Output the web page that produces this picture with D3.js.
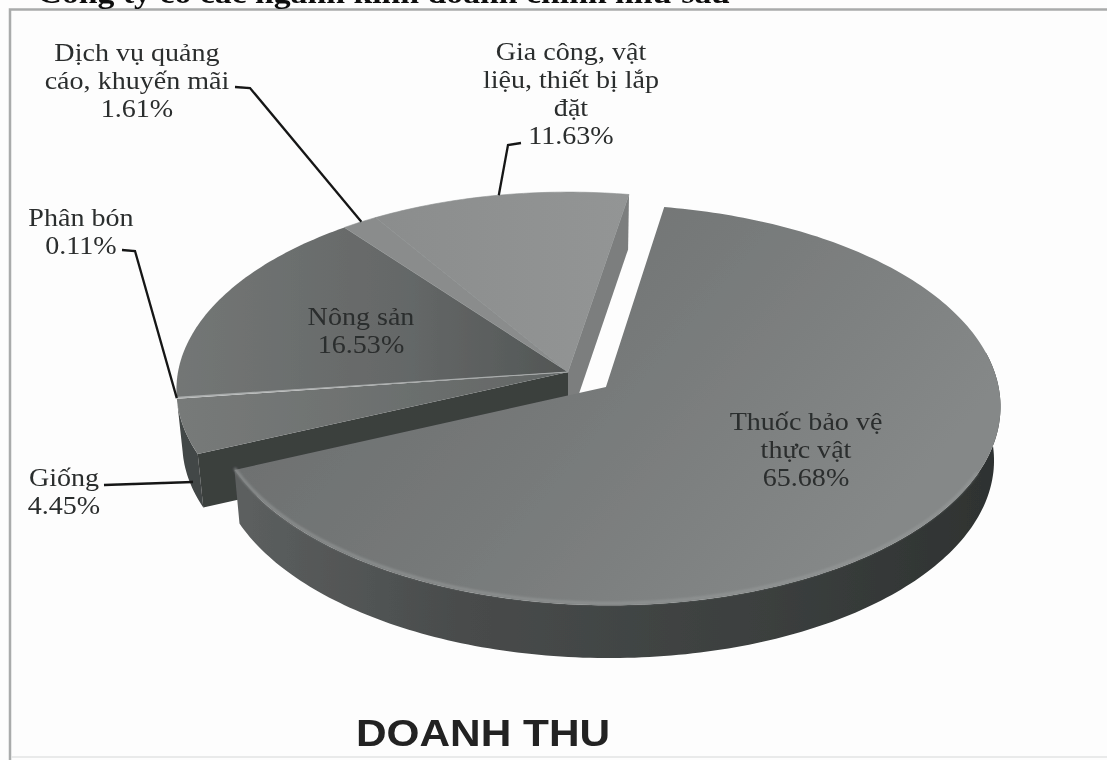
<!DOCTYPE html>
<html lang="vi"><head><meta charset="utf-8">
<script src="https://cdn.jsdelivr.net/npm/d3@7"></script>
<style>html,body{margin:0;padding:0;background:#fdfdfd;overflow:hidden}svg{display:block}</style>
</head><body><svg id="c" width="1107" height="760"></svg>
<script>
// ---- data ----
const categories = ["Thuốc bảo vệ thực vật","Giống","Phân bón","Nông sản","Dịch vụ quảng cáo, khuyến mãi","Gia công, vật liệu, thiết bị lắp đặt"];
const values = [65.68,4.45,0.11,16.53,1.61,11.63];
const valueLabels = ["65.68%","4.45%","0.11%","16.53%","1.61%","11.63%"];
const labelLines = [["Thuốc bảo vệ","thực vật"],["Giống"],["Phân bón"],["Nông sản"],["Dịch vụ quảng","cáo, khuyến mãi"],["Gia công, vật","liệu, thiết bị lắp","đặt"]];
const chartTitle = "DOANH THU";
const pageHeading = "- Công ty có các ngành kinh doanh chính như sau";

// ---- layout ----
const W=1107,H=760, CX=568,CY=372, RX=390,RY=196, K=0.0895, WALL=54, BOTTOM_SCALE=0.985;
const START=9.8*Math.PI/180, EXPLODE=[0.1226,0,0,0,0,0];
const deg=Math.PI/180;
const svg=d3.select("#c");
const defs=svg.append("defs");
defs.append("filter").attr("id","soft").append("feGaussianBlur").attr("stdDeviation",0.6);
defs.append("filter").attr("id","soft2").attr("x","-5%").attr("y","-5%").attr("width","110%").attr("height","110%").append("feGaussianBlur").attr("stdDeviation",1.1);
function grad(id,x1,y1,x2,y2,stops){
  const g=defs.append("linearGradient").attr("id",id).attr("gradientUnits","userSpaceOnUse")
    .attr("x1",x1).attr("y1",y1).attr("x2",x2).attr("y2",y2);
  stops.forEach(s=>g.append("stop").attr("offset",s[0]).attr("stop-color",s[1]));
}
grad("topMain",300,200,800,620,[[0,"#696c6c"],[.55,"#777a7a"],[1,"#858888"]]);
grad("wallMain",240,0,1000,0,[[0,"#5c5f5f"],[.3,"#484b4b"],[.7,"#3b3f3e"],[1,"#2e3231"]]);
grad("topNong",180,0,568,0,[[0,"#737675"],[.6,"#646767"],[1,"#525655"]]);
grad("topGiong",180,0,568,0,[[0,"#777a79"],[1,"#636766"]]);
grad("topGia",350,0,630,0,[[0,"#8a8c8c"],[1,"#939595"]]);
const topFill=["url(#topMain)","url(#topGiong)","#b8baba","url(#topNong)","#8a8c8c","url(#topGia)"];

const pie=d3.pie().value(d=>d).sort(null).startAngle(START).endAngle(START+2*Math.PI);
const arcs=pie(values);
function world(i,theta,r){
  const a=arcs[i], mid=(a.startAngle+a.endAngle)/2, e=EXPLODE[i];
  return [r*Math.sin(theta)+e*Math.sin(mid), r*Math.cos(theta)+e*Math.cos(mid)];
}
function proj(p,low){
  const w=1+K*p[1]; let sx=RX*p[0]/w, sy=-RY*p[1]/w;
  if(low){ sx*=BOTTOM_SCALE; sy=sy*0.995+WALL; }
  return [CX+sx,CY+sy];
}
const line=d3.line();
function rim(i,t0,t1,low){
  const n=Math.max(2,Math.ceil(Math.abs(t1-t0)/deg));
  return d3.range(n+1).map(j=>proj(world(i,t0+(t1-t0)*j/n,1),low));
}
const centre=(i,low)=>proj(world(i,0,0),low);
const topPath=i=>line([centre(i,false),...rim(i,arcs[i].startAngle,arcs[i].endAngle,false)])+"Z";
const wallPath=(i,t0,t1)=>line([...rim(i,t0,t1,false),...rim(i,t1,t0,true)])+"Z";
const cutPath=(i,t)=>line([centre(i,false),proj(world(i,t,1),false),proj(world(i,t,1),true),centre(i,true)])+"Z";

// frame
svg.append("rect").attr("width",W).attr("height",H).attr("fill","#fdfdfd");
svg.append("path").attr("d",line([[10,H],[10,9.5],[W,9.5]])).attr("fill","none").attr("stroke","#a9abab").attr("stroke-width",2.5);
svg.append("path").attr("d",line([[11,757],[W,757]])).attr("fill","none").attr("stroke","#e2e3e3").attr("stroke-width",1.5);

// rest of the pie: walls, then cut faces, then tops
const rest=[1,2,3,4,5];
const pieG=svg.append("g").attr("filter","url(#soft)");
pieG.append("path").attr("d",wallPath(1,arcs[1].startAngle,arcs[2].endAngle)).attr("fill","#434646");
pieG.append("path").attr("d",cutPath(5,arcs[5].endAngle)).attr("fill","#7c7e7e");
pieG.append("path").attr("d",cutPath(1,arcs[1].startAngle)).attr("fill","#3b3f3e");
pieG.selectAll("path.t").data(rest).join("path").attr("class","t")
  .attr("d",topPath).attr("fill",i=>topFill[i]).attr("stroke",i=>i>=4?"#8c8e8e":"none").attr("stroke-width",.6);
pieG.append("path").attr("d",line([centre(3,false),proj(world(3,arcs[3].startAngle,1),false)]))
  .attr("stroke","#a9acac").attr("stroke-width",1.1).attr("fill","none");

// main exploded slice
pieG.append("path").attr("d",wallPath(0,Math.max(arcs[0].startAngle,80*deg),arcs[0].endAngle)).attr("fill","url(#wallMain)");
pieG.append("path").attr("d",topPath(0)).attr("fill",topFill[0]);
pieG.append("path").attr("d",line(rim(0,115*deg,arcs[0].endAngle,false).map(p=>[p[0],p[1]-2])))
  .attr("fill","none").attr("stroke","#999c9c").attr("stroke-width",3).attr("opacity",.6).attr("filter","url(#soft2)");

// leaders: [label end, elbow], last point comes from the pie rim
const rimAt=(i,f)=>proj(world(i,arcs[i].startAngle+(arcs[i].endAngle-arcs[i].startAngle)*f,1),false);
const leaders=[
  [[[235,87],[250,88]],rimAt(4,.55)],
  [[[521,143],[508,145]],rimAt(5,.5)],
  [[[122,250],[135,251]],rimAt(2,.5)],
  [[[104,485]],[193,482]]
];
svg.append("g").attr("filter","url(#soft)").selectAll("path").data(leaders).join("path")
  .attr("d",d=>line([...d[0],d[1]])).attr("fill","none").attr("stroke","#151717").attr("stroke-width",2.3);

// labels
const FS=26, LH=28, XS=1.08;
const labelAnchor={0:[806,430],1:[64,486],2:[81,226],3:[361,325],4:[137,61],5:[571,60]};
const texts=svg.append("g").attr("filter","url(#soft)").attr("font-family","'Liberation Serif'").attr("font-size",FS).attr("fill","#2b2d2d").attr("text-anchor","middle");
categories.forEach((c,i)=>{
  const ls=[...labelLines[i],valueLabels[i]], a=labelAnchor[i];
  ls.forEach((t,j)=>texts.append("text").attr("transform",`translate(${a[0]},${a[1]+j*LH}) scale(${XS},1)`).text(t));
});
svg.append("text").attr("filter","url(#soft)").attr("transform","translate(483,746) scale(1.145,1)").attr("text-anchor","middle")
  .attr("font-family","'Liberation Sans'").attr("font-weight",700).attr("font-size",37).attr("fill","#222").text(chartTitle);
svg.append("text").attr("filter","url(#soft)").attr("transform","translate(374,3) scale(1.125,1)").attr("text-anchor","middle")
  .attr("font-family","'Liberation Serif'").attr("font-weight",700).attr("font-size",30).attr("fill","#111").text(pageHeading);
</script></body></html>
